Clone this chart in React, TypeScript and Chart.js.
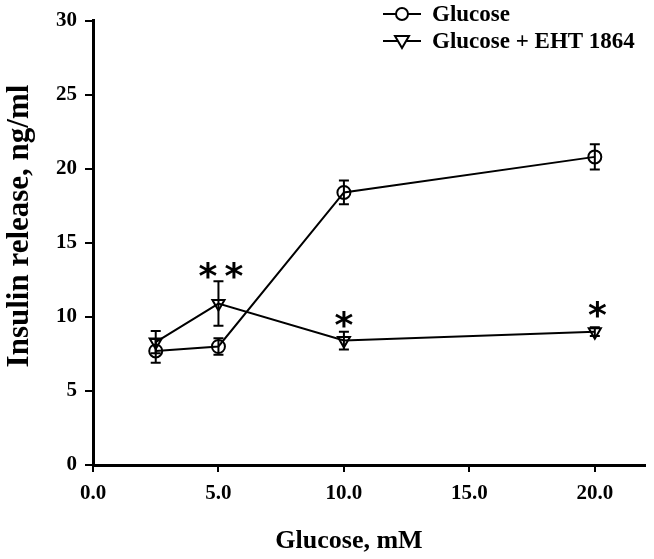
import React, { useEffect, useRef } from "react";
import { Chart, registerables } from "chart.js";

Chart.register(...registerables);

const xValues = [2.5, 5, 10, 20];
const glucose = [7.7, 8.0, 18.4, 20.8];
const glucoseErr = [0.8, 0.55, 0.8, 0.85];
const eht = [8.3, 10.9, 8.4, 9.0];
const ehtErr = [0.75, 1.5, 0.6, 0.3];
const seriesNames = ["Glucose", "Glucose + EHT 1864"];
const starX = [5.1, 10, 20.1];
const starY = [13.1, 9.8, 10.5];
const starText = ["*\u2009*", "*", "*"];
const yTitle = "Insulin release, ng/ml";
const xTitle = "Glucose, mM";

const SERIF = '"Liberation Serif", "Times New Roman", serif';

export default function App() {
  const ref = useRef<HTMLCanvasElement>(null);

  useEffect(() => {
    const canvas = ref.current;
    if (!canvas) return;

    const errorBars = {
      id: "errorBars",
      afterDatasetsDraw(chart: any) {
        const ctx = chart.ctx;
        const xs = chart.scales.x;
        const ys = chart.scales.y;
        const errs = [glucoseErr, ehtErr];
        const vals = [glucose, eht];
        ctx.save();
        ctx.strokeStyle = "#000";
        ctx.lineWidth = 2;
        for (let s = 0; s < 2; s++) {
          for (let i = 0; i < xValues.length; i++) {
            const px = xs.getPixelForValue(xValues[i]);
            const top = ys.getPixelForValue(vals[s][i] + errs[s][i]);
            const bot = ys.getPixelForValue(vals[s][i] - errs[s][i]);
            ctx.beginPath();
            ctx.moveTo(px, top);
            ctx.lineTo(px, bot);
            ctx.moveTo(px - 5, top);
            ctx.lineTo(px + 5, top);
            ctx.moveTo(px - 5, bot);
            ctx.lineTo(px + 5, bot);
            ctx.stroke();
          }
        }
        ctx.restore();
      },
    };

    const extras = {
      id: "extras",
      afterDraw(chart: any) {
        const ctx = chart.ctx;
        const xs = chart.scales.x;
        const ys = chart.scales.y;
        ctx.save();
        // asterisks
        ctx.fillStyle = "#000";
        ctx.font = 'bold 36px "DejaVu Sans", sans-serif';
        ctx.textAlign = "center";
        ctx.textBaseline = "alphabetic";
        for (let i = 0; i < starX.length; i++) {
          const m = ctx.measureText("*");
          const off = (m.actualBoundingBoxAscent - m.actualBoundingBoxDescent) / 2;
          ctx.fillText(starText[i], xs.getPixelForValue(starX[i]), ys.getPixelForValue(starY[i]) + off);
        }
        // titles
        ctx.font = `bold 31px ${SERIF}`;
        ctx.textBaseline = "middle";
        ctx.save();
        ctx.translate(20, 226);
        ctx.rotate(-Math.PI / 2);
        ctx.fillText(yTitle, 0, 0);
        ctx.restore();
        ctx.font = `bold 26px ${SERIF}`;
        ctx.fillText(xTitle, 349, 541);
        // legend
        const rows = [14, 41];
        ctx.font = `bold 23px ${SERIF}`;
        ctx.textAlign = "left";
        for (let s = 0; s < 2; s++) {
          const y = rows[s];
          ctx.strokeStyle = "#000";
          ctx.lineWidth = 2;
          ctx.beginPath();
          ctx.moveTo(383, y);
          ctx.lineTo(421, y);
          ctx.stroke();
          ctx.fillStyle = "#fff";
          ctx.beginPath();
          if (s === 0) {
            ctx.arc(402, y, 6, 0, Math.PI * 2);
          } else {
            ctx.moveTo(402 - 7, y - 5);
            ctx.lineTo(402 + 7, y - 5);
            ctx.lineTo(402, y + 7);
            ctx.closePath();
          }
          ctx.fill();
          ctx.stroke();
          ctx.fillStyle = "#000";
          ctx.fillText(seriesNames[s], 432, y + 1);
        }
        ctx.restore();
      },
    };

    const chart = new Chart(canvas, {
      type: "line",
      data: {
        datasets: [
          {
            label: seriesNames[0],
            data: xValues.map((x, i) => ({ x, y: glucose[i] })),
            borderColor: "#000",
            borderWidth: 2,
            pointStyle: "circle",
            pointRadius: 6.5,
            pointBorderWidth: 2,
            pointBorderColor: "#000",
            pointBackgroundColor: "rgba(0,0,0,0)",
            fill: false,
            tension: 0,
          },
          {
            label: seriesNames[1],
            data: xValues.map((x, i) => ({ x, y: eht[i] })),
            borderColor: "#000",
            borderWidth: 2,
            pointStyle: "triangle",
            pointRotation: 180,
            pointRadius: 7,
            pointBorderWidth: 2,
            pointBorderColor: "#000",
            pointBackgroundColor: "rgba(0,0,0,0)",
            fill: false,
            tension: 0,
          },
        ],
      },
      options: {
        responsive: false,
        animation: false,
        devicePixelRatio: 1,
        layout: { padding: { top: 18, right: 7, left: 0, bottom: 0 } },
        plugins: { legend: { display: false }, tooltip: { enabled: false } },
        scales: {
          x: {
            type: "linear",
            min: 0,
            max: 22,
            afterFit: (s: any) => {
              s.height = 94;
            },
            ticks: {
              stepSize: 5,
              includeBounds: false,
              color: "#000",
              padding: 9,
              maxRotation: 0,
              font: { family: SERIF, size: 21, weight: "bold" },
              callback: (v: any) => Number(v).toFixed(1),
            },
            grid: {
              drawOnChartArea: false,
              drawTicks: true,
              tickLength: 7,
              color: "#000",
              lineWidth: 2,
            },
            border: { display: true, color: "#000", width: 3 },
          },
          y: {
            type: "linear",
            min: 0,
            max: 30,
            afterFit: (s: any) => {
              s.width = 93;
            },
            ticks: {
              stepSize: 5,
              color: "#000",
              padding: 8,
              font: { family: SERIF, size: 21, weight: "bold" },
            },
            grid: {
              drawOnChartArea: false,
              drawTicks: true,
              tickLength: 8,
              color: "#000",
              lineWidth: 2,
            },
            border: { display: true, color: "#000", width: 3 },
          },
        },
      },
      plugins: [errorBars, extras],
    } as any);

    return () => chart.destroy();
  }, []);

  return (
    <div style={{ position: "absolute", left: 0, top: 0, width: 654, height: 559, background: "#fff" }}>
      <canvas ref={ref} width={654} height={559} style={{ display: "block", width: 654, height: 559 }} />
    </div>
  );
}
